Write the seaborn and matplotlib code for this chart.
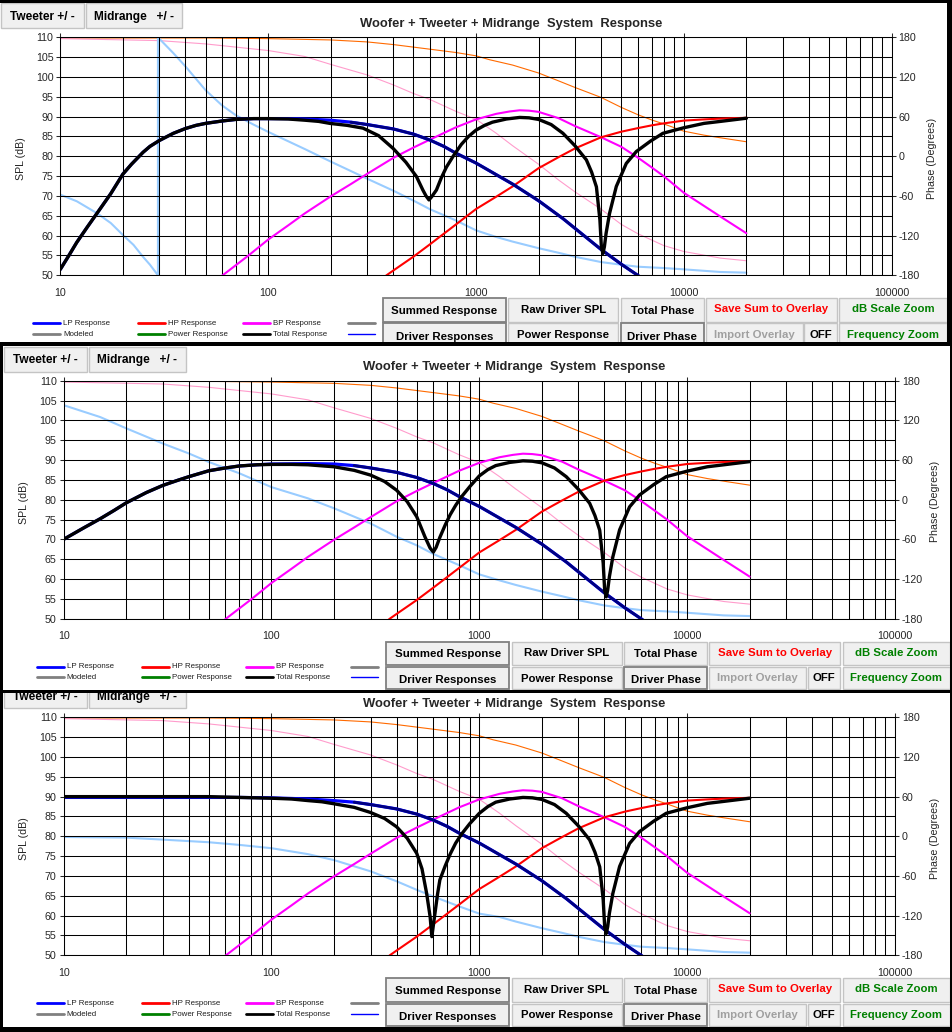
import numpy as np
import pandas as pd
import matplotlib
matplotlib.use("Agg")
import matplotlib.pyplot as plt
import seaborn as sns
from matplotlib.patches import Rectangle
from matplotlib.lines import Line2D
from matplotlib.transforms import Bbox, TransformedBbox
from matplotlib.ticker import FixedLocator, LogLocator, NullFormatter

sns.set_style("white")
plt.rcParams['font.family'] = ['Liberation Sans', 'DejaVu Sans']
plt.rcParams['axes.unicode_minus'] = False

# ---- data (SPL in dB, phase in degrees) ----
freq_ticks = [10, 100, 1000, 10000, 100000]
freq_labels = ["10", "100", "1000", "10000", "100000"]
spl_ticks = list(range(50, 111, 5))
phase_ticks = [-180, -120, -60, 0, 60, 120, 180]

bp_f = [45, 60.4, 80, 100, 125, 150, 200, 250, 300, 400, 500, 600, 800, 1000, 1250, 1450,
        1622, 1800, 2000, 2500, 3000, 3500, 4000, 5000, 6000, 7000, 8000, 10000, 12500,
        15000, 20000]
bp_db = [44, 50, 54.9, 59.0, 62.6, 65.6, 69.9, 73.0, 75.6, 79.6, 82.2, 84.2, 87.3, 89.3,
         90.7, 91.3, 91.6, 91.5, 91.2, 89.6, 87.6, 86.1, 84.8, 82.4, 79.7, 77.2, 75.0, 70.8,
         67.5, 64.8, 60.6]

hp_f = [300, 371, 400, 500, 600, 800, 1000, 1250, 1500, 2000, 2500, 3000, 4000, 5000, 6000,
        7000, 8000, 10000, 12500, 15000, 20000]
hp_db = [46, 50, 51.2, 54.7, 57.8, 62.8, 66.7, 69.8, 72.4, 77.0, 79.8, 82.0, 84.8, 86.2,
         87.1, 87.8, 88.3, 89.0, 89.3, 89.5, 89.7]

# woofer low pass, upper part is common to the three panels
lp_hi_f = [250, 300, 400, 500, 600, 700, 800, 1000, 1500, 2000, 2620, 3000, 4000, 5000,
           6000, 7000]
lp_hi_db = [88.6, 88.0, 86.9, 85.6, 84.1, 82.5, 80.8, 78.3, 73.0, 68.8, 64.3, 61.8, 56.5,
            52.8, 50.0, 47.5]
lp_lo_f_1 = [10, 11, 12, 13.5, 15, 17.5, 20, 22, 25, 27, 30, 35, 40, 45, 50, 60, 70, 85, 100,
             125, 150, 200]
lp_lo_db_1 = [51.5, 55.0, 58.3, 62.2, 65.6, 70.6, 75.5, 78.0, 81.0, 82.5, 84.0, 85.8, 87.0,
              87.8, 88.3, 88.9, 89.3, 89.5, 89.5, 89.5, 89.4, 89.1]
lp_lo_f_2 = [10, 12.5, 15, 17.5, 20, 25, 30, 35, 40, 50, 60, 70, 85, 100, 150, 200]
lp_lo_db_2 = [70.0, 72.9, 75.2, 77.3, 79.2, 81.8, 83.6, 84.8, 85.8, 87.3, 88.0, 88.5, 88.8,
              89.0, 89.1, 89.0]
lp_lo_f_3 = [10, 20, 50, 70, 100, 150, 200]
lp_lo_db_3 = [89.8, 89.8, 89.8, 89.8, 89.7, 89.4, 89.0]

# total response, upper part is common
tot_hi_f = [1200, 1400, 1622, 1800, 2000, 2300, 2620, 3000, 3396, 3600, 3796, 3945, 4010,
            4080, 4147, 4226, 4391, 4732, 5285, 5905, 6900, 7930, 10000, 12500, 15000, 20000]
tot_hi_db = [88.6, 89.4, 89.8, 89.7, 89.3, 88.0, 85.8, 82.6, 79.1, 76.0, 72.3, 64.0, 57.2,
             55.5, 57.2, 60.6, 65.6, 72.4, 78.2, 81.2, 83.8, 85.8, 87.2, 88.3, 88.8, 89.6]
tot_lo_f_1 = [10, 11, 12, 13.5, 15, 17.5, 20, 22, 25, 27, 30, 35, 40, 45, 50, 60, 70, 85, 100,
              125, 150, 175, 198, 240, 286, 340, 399, 460, 517, 555, 575, 594, 612, 645, 680,
              721, 776, 850, 920, 1000, 1100]
tot_lo_db_1 = [51.5, 55.0, 58.3, 62.2, 65.6, 70.6, 75.5, 78.0, 81.0, 82.5, 84.0, 85.8, 87.0,
               87.8, 88.3, 88.9, 89.3, 89.5, 89.5, 89.4, 89.1, 88.8, 88.3, 87.8, 87.1, 85.2,
               82.0, 78.5, 74.9, 71.5, 70.0, 69.0, 69.8, 71.5, 74.5, 77.3, 80.0, 83.0, 85.0,
               86.6, 87.8]
tot_lo_f_2 = [10, 12.5, 15, 17.5, 20, 25, 30, 35, 40, 50, 60, 70, 85, 100, 125, 150, 200, 250,
              300, 350, 400, 450, 500, 548, 580, 601, 620, 646, 685, 724, 770, 820, 900,
              1000, 1100]
tot_lo_db_2 = [70.0, 72.9, 75.2, 77.3, 79.2, 81.8, 83.6, 84.8, 85.8, 87.3, 88.0, 88.5, 88.8,
               88.9, 88.9, 88.8, 88.3, 87.4, 86.2, 84.6, 82.4, 79.5, 75.7, 70.6, 67.8, 66.8,
               68.0, 70.5, 73.6, 76.2, 78.6, 80.7, 83.3, 86.0, 87.6]
tot_lo_f_3 = [10, 30, 50, 70, 100, 125, 150, 175, 200, 250, 300, 350, 400, 450, 500, 530, 558,
              580, 591, 612, 630, 646, 685, 724, 770, 820, 900, 1000, 1100]
tot_lo_db_3 = [90.0, 90.0, 90.0, 89.8, 89.6, 89.4, 89.0, 88.7, 88.2, 87.3, 86.0, 84.5, 82.4,
               79.5, 75.7, 71.8, 65.6, 59.7, 54.7, 60.6, 65.5, 69.0, 72.5, 75.5, 78.3, 80.5,
               83.2, 85.8, 87.5]

# phase curves (right axis)
ph_hi_f = [1250, 1500, 2000, 2500, 3000, 4000, 5000, 6000, 8000, 10000, 15000, 20000]
ph_hi_deg = [-122, -129, -139, -146, -152, -160, -164, -167, -169, -171, -175, -176]
ph_lo_f_1 = [10, 12, 15, 17.5, 20, 22.5, 25, 27, 29.5, 29.5, 35, 40, 45, 50, 60, 70, 85, 100,
             150, 200, 300, 400, 500, 600, 800, 1000]
ph_lo_deg_1 = [-58, -68, -86, -101, -119, -134, -152, -164, -180, 180, 156, 136, 117, 100,
               77, 62, 48, 37, 11, -8, -34, -52, -67, -80, -97, -112]
ph_lo_f_2 = [10, 15, 20, 30, 40, 50, 70, 100, 150, 200, 300, 400, 500, 600, 800, 1000]
ph_lo_deg_2 = [143, 125, 108, 85, 70, 57, 40, 19, 2, -13, -36, -56, -69, -82, -99, -113]
ph_lo_f_3 = [10, 20, 30, 50, 70, 100, 150, 200, 300, 400, 500, 600, 800, 1000]
ph_lo_deg_3 = [-1, -2, -5, -9, -13, -18, -27, -36, -53, -68, -81, -91, -106, -117]

orange_f = [10, 50, 100, 200, 300, 400, 600, 800, 1000, 1165, 1500, 2000, 2500, 3000, 3500,
            4000, 5000, 6000, 7000, 8000, 10000, 12500, 15000, 20000]
orange_deg = [179, 179, 178, 176, 173, 169, 162, 157, 152, 146, 138, 126, 114, 104, 96, 89,
              74, 63, 55, 49, 38, 32, 28, 22]

pink_f = [10, 30, 50, 100, 150, 200, 300, 400, 500, 600, 800, 1000, 1250, 1500, 2000, 2500,
          3000, 4000, 5000, 6000, 8000, 10000, 15000, 20000]
pink_deg = [178, 175, 170, 160, 151, 139, 123, 108, 95, 86, 68, 56, 35, 16, -12, -36, -54,
            -80, -103, -117, -135, -144, -154, -158]

legend_rows = [["LP Response", "HP Response", "BP Response", ""],
               ["Modeled", "Power Response", "Total Response", ""]]
legend_colors = [["#0000ff", "#ff0000", "#ff00ff", "#808080"],
                 ["#808080", "#008000", "#000000", "#0000ff"]]

title = "Woofer + Tweeter + Midrange  System  Response"

W, H = 953, 1032
fig = plt.figure(figsize=(W / 100, H / 100), dpi=100, facecolor="black")


def fx(x):
    return x / W


def fy(y):
    return 1 - y / H


def curve(ax, f, v, color, lw):
    df = pd.DataFrame({"freq": f, "val": v})
    sns.lineplot(data=df, x="freq", y="val", ax=ax, color=color, lw=lw,
                 estimator=None, sort=False, legend=False,
                 solid_joinstyle="round", solid_capstyle="round")
    ax.set_xlabel("")
    ax.set_ylabel("")


def button(x0, y0, x1, y1, label, clip, color="black", pressed=False, ty=None, fs=8.2):
    r = Rectangle((fx(x0), fy(y1)), (x1 - x0) / W, (y1 - y0) / H, transform=fig.transFigure,
                  facecolor="#f0f0f0", edgecolor="#808080" if pressed else "#c4c4c4",
                  lw=1.3 if pressed else 1.0, zorder=5)
    r.set_clip_box(clip)
    fig.add_artist(r)
    if ty is None:
        ty = (y0 + y1) / 2
    t = fig.text(fx((x0 + x1) / 2), fy(ty), label, ha="center", va="center", fontsize=fs,
                 fontweight="bold", color=color, zorder=6)
    t.set_clip_box(clip)
    t.set_clip_on(True)


def draw_panel(dx, dy, win, lp_f, lp_v, tot_f, tot_v, ph_f, ph_v):
    x0, y0, x1, y1 = win
    fig.add_artist(Rectangle((fx(x0), fy(y1)), (x1 - x0) / W, (y1 - y0) / H,
                             transform=fig.transFigure, facecolor="white",
                             edgecolor="none", zorder=-5))
    clip = TransformedBbox(Bbox.from_extents(fx(x0), fy(y1), fx(x1), fy(y0)), fig.transFigure)

    left, right, top, bottom = 60.3 + dx, 891.7 + dx, 37.3 + dy, 275.3 + dy
    ax = fig.add_axes([fx(left), fy(bottom), (right - left) / W, (bottom - top) / H])
    ax.set_xscale("log")
    ax2 = ax.twinx()

    curve(ax2, orange_f, orange_deg, "#ff6a00", 0.8)
    curve(ax2, pink_f, pink_deg, "#ff9ccc", 0.8)
    curve(ax2, ph_f, ph_v, "#99ccff", 1.5)

    curve(ax, bp_f, bp_db, "#ff00ff", 1.5)
    curve(ax, hp_f, hp_db, "#ff0000", 1.5)
    curve(ax, lp_f, lp_v, "#0000ff", 2.3)
    navy = [i for i, f in enumerate(lp_f) if f >= 250]
    curve(ax, [lp_f[i] for i in navy], [lp_v[i] for i in navy], "#000080", 2.0)
    curve(ax, tot_f, tot_v, "#000000", 2.4)

    ax.set_zorder(ax2.get_zorder() + 1)
    ax.patch.set_visible(False)

    ax.set_xlim(10, 100000)
    ax.set_ylim(50, 110)
    ax.set_yticks(spl_ticks)
    ax.xaxis.set_major_locator(FixedLocator(freq_ticks))
    ax.xaxis.set_minor_locator(LogLocator(base=10, subs=np.arange(2, 10), numticks=20))
    ax.xaxis.set_minor_formatter(NullFormatter())
    ax.set_xticklabels(freq_labels)
    ax.grid(True, which="both", axis="x", color="black", lw=0.75)
    ax.grid(True, which="major", axis="y", color="black", lw=0.75)
    ax.tick_params(axis="y", which="major", left=True, direction="out", length=3,
                   width=0.75, labelsize=7.7, pad=2)
    ax.tick_params(axis="x", which="major", bottom=False, top=True, direction="out",
                   length=3, width=0.75, labelsize=7.7, pad=6)
    ax.tick_params(axis="x", which="minor", bottom=False, top=False)
    for s in ax.spines.values():
        s.set_color("black")
        s.set_linewidth(0.75)

    ax2.set_ylim(-180, 180)
    ax2.set_yticks(phase_ticks)
    ax2.tick_params(axis="y", right=True, direction="out", length=3, width=0.75,
                    labelsize=7.7, pad=2)
    ax2.grid(False)
    for s in ax2.spines.values():
        s.set_visible(False)

    fig.text(fx(20.7 + dx), fy(159 + dy), "SPL (dB)", rotation=90, ha="center",
             va="center", fontsize=7.7)
    fig.text(fx(931.7 + dx), fy(158 + dy), "Phase (Degrees)", rotation=90, ha="center",
             va="center", fontsize=7.7)
    fig.text(fx(511 + dx), fy(23.5 + dy), title, ha="center", va="center", fontsize=9.4,
             fontweight="bold")

    # top-left buttons
    button(1 + dx, 3.3 + dy, 84 + dx, 28.3 + dy, "Tweeter +/ -", clip, ty=16.6 + dy, fs=8.6)
    button(86 + dx, 3.3 + dy, 182.3 + dx, 28.3 + dy, "Midrange   +/ -", clip, ty=16.6 + dy,
           fs=8.6)

    # legend
    cols = [33.3, 138.3, 243, 348]
    rows = [323.3, 334]
    for r, yy in enumerate(rows):
        for c, xx in enumerate(cols):
            lw = 1.0 if (r == 1 and c == 3) else 2.0
            fig.add_artist(Line2D([fx(xx + dx), fx(xx + 27 + dx)], [fy(yy + dy)] * 2,
                                  transform=fig.transFigure, color=legend_colors[r][c],
                                  lw=lw, zorder=5))
            if legend_rows[r][c]:
                fig.text(fx(xx + 30 + dx), fy(yy + dy), legend_rows[r][c], ha="left",
                         va="center", fontsize=5.7, color="#202020")

    # bottom-right buttons
    r1, r2 = (298.3 + dy, 321.5 + dy), (323.5 + dy, 346 + dy)
    ty1, ty2 = 311 + dy, 337 + dy
    button(382.7 + dx, r1[0], 506 + dx, r1[1], "Summed Response", clip, pressed=True, ty=ty1)
    button(508.3 + dx, r1[0], 618.3 + dx, r1[1], "Raw Driver SPL", clip, ty=ty1 - 1)
    button(620.7 + dx, r1[0], 704 + dx, r1[1], "Total Phase", clip, ty=ty1)
    button(706 + dx, r1[0], 836.7 + dx, r1[1], "Save Sum to Overlay", clip, color="#ff0000",
           ty=ty1 - 1.5)
    button(839.3 + dx, r1[0], 946.7 + dx, r1[1], "dB Scale Zoom", clip, color="#008000",
           ty=ty1 - 1.5)
    button(382.7 + dx, r2[0], 506 + dx, r2[1], "Driver Responses", clip, pressed=True, ty=ty2)
    button(508.3 + dx, r2[0], 618.3 + dx, r2[1], "Power Response", clip, ty=ty2 - 1.5)
    button(620.7 + dx, r2[0], 704 + dx, r2[1], "Driver Phase", clip, pressed=True, ty=ty2)
    button(706 + dx, r2[0], 802.7 + dx, r2[1], "Import Overlay", clip, color="#a0a0a0",
           ty=ty2 - 2)
    button(804.3 + dx, r2[0], 836.7 + dx, r2[1], "OFF", clip, ty=ty2 - 2)
    button(839.3 + dx, r2[0], 946.7 + dx, r2[1], "Frequency Zoom", clip, color="#008000",
           ty=ty2 - 2)


draw_panel(0, 0, (0, 3, 947, 342),
           lp_lo_f_1 + lp_hi_f, lp_lo_db_1 + lp_hi_db,
           tot_lo_f_1 + tot_hi_f, tot_lo_db_1 + tot_hi_db,
           ph_lo_f_1 + ph_hi_f, ph_lo_deg_1 + ph_hi_deg)
draw_panel(3.3, 343.4, (3, 346, 950, 690),
           lp_lo_f_2 + lp_hi_f, lp_lo_db_2 + lp_hi_db,
           tot_lo_f_2 + tot_hi_f, tot_lo_db_2 + tot_hi_db,
           ph_lo_f_2 + ph_hi_f, ph_lo_deg_2 + ph_hi_deg)
draw_panel(3.3, 680, (3, 693, 950, 1027),
           lp_lo_f_3 + lp_hi_f, lp_lo_db_3 + lp_hi_db,
           tot_lo_f_3 + tot_hi_f, tot_lo_db_3 + tot_hi_db,
           ph_lo_f_3 + ph_hi_f, ph_lo_deg_3 + ph_hi_deg)

fig.savefig("out.png", dpi=100, facecolor="black")
